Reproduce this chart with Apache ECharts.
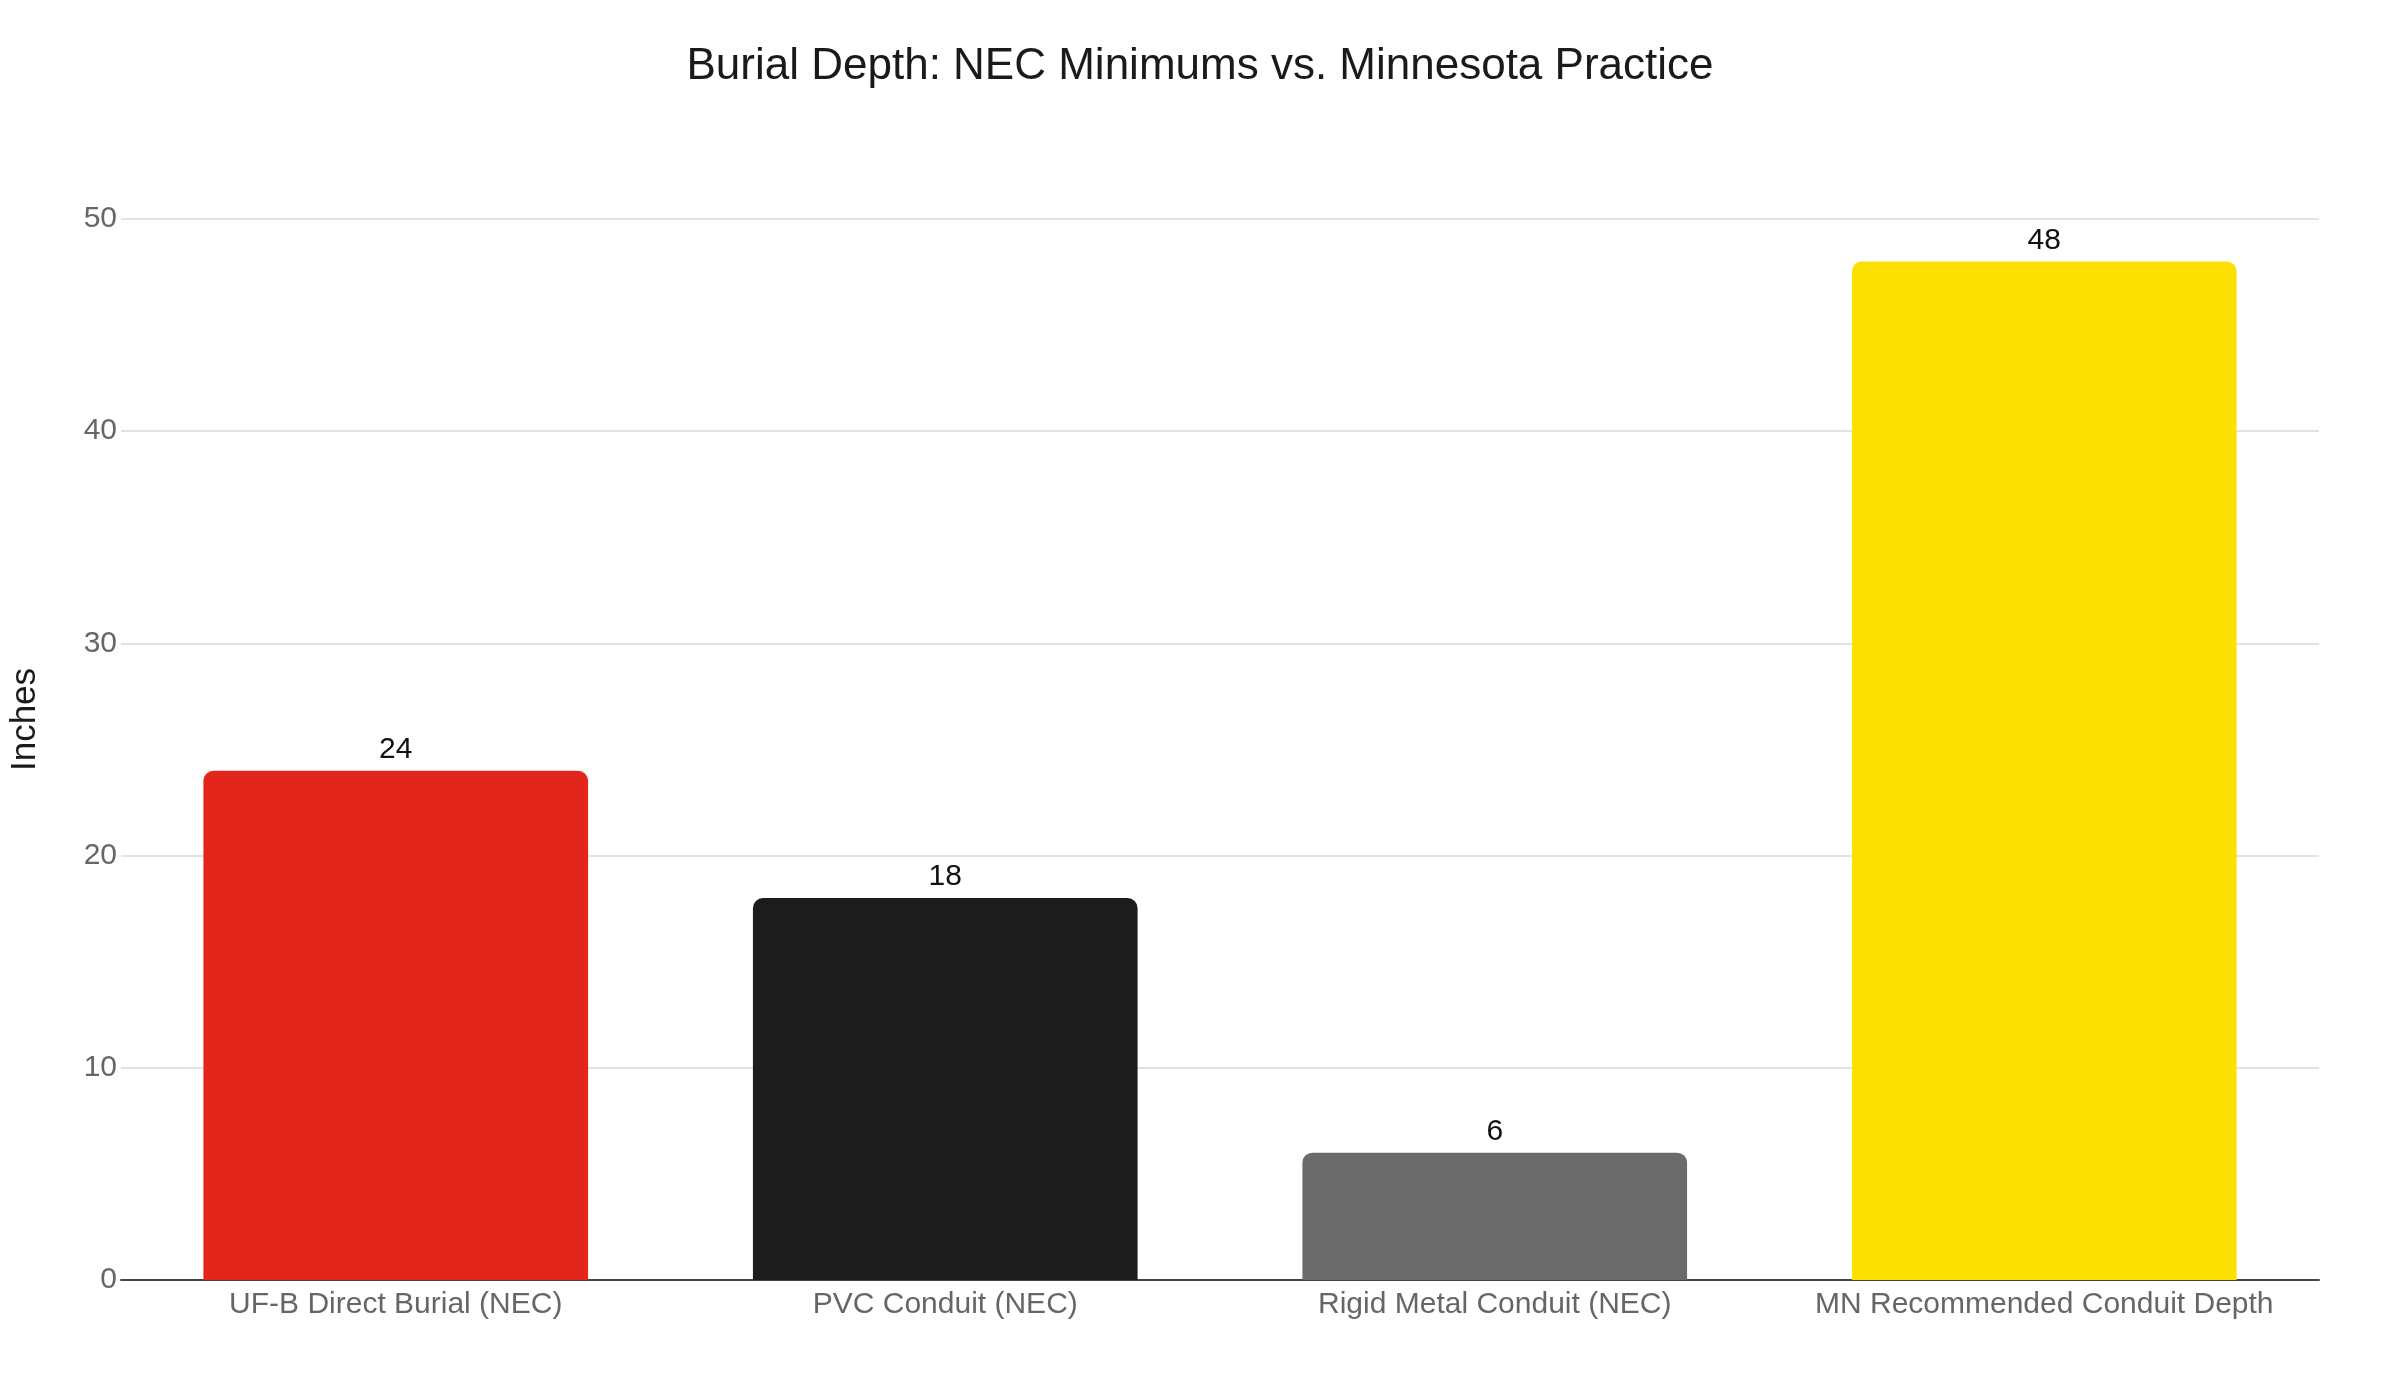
<!DOCTYPE html>
<html>
<head>
<meta charset="utf-8">
<script src="https://cdn.jsdelivr.net/npm/echarts@6/dist/echarts.min.js"></script>
<style>
  html, body { margin: 0; padding: 0; background: #fff; }
  #chart { width: 2400px; height: 1400px; }
</style>
</head>
<body>
<div id="chart"></div>
<script>
// 数据
var categories = ['UF-B Direct Burial (NEC)', 'PVC Conduit (NEC)', 'Rigid Metal Conduit (NEC)', 'MN Recommended Conduit Depth'];
var depths = [24, 18, 6, 48];
var barColors = ['#e2261c', '#1c1c1c', '#6b6b6b', '#fce100'];

var myChart = echarts.init(document.getElementById('chart'));
var fontFamily = '"Liberation Sans", Arial, Helvetica, sans-serif';

var option = {
    backgroundColor: '#fff',
    textStyle: { fontFamily: fontFamily },
    title: {
        text: 'Burial Depth: NEC Minimums vs. Minnesota Practice',
        left: 'center',
        top: 40,
        textStyle: {
            fontSize: 44,
            fontWeight: 'normal',
            color: '#1a1a1a',
            fontFamily: fontFamily
        }
    },
    grid: {
        left: 114,
        right: 81,
        top: 219,
        bottom: 120
    },
    xAxis: {
        type: 'category',
        data: categories,
        axisLine: { lineStyle: { color: '#444', width: 2 } },
        axisTick: { show: false },
        axisLabel: {
            fontSize: 30,
            color: '#666',
            margin: 10,
            interval: 0
        }
    },
    yAxis: {
        type: 'value',
        min: 0,
        max: 50,
        interval: 10,
        name: 'Inches',
        nameLocation: 'middle',
        nameGap: 78,
        // 轴标题略微上移
        nameTextStyle: { fontSize: 35, color: '#1a1a1a', padding: [0, 0, 0, 60] },
        axisLine: { show: false },
        axisTick: { show: false },
        axisLabel: { fontSize: 30, color: '#666', margin: 4 },
        splitLine: { lineStyle: { color: '#e3e3e3', width: 2 } }
    },
    series: [{
        type: 'bar',
        barCategoryGap: '30%',
        data: depths.map(function (v, i) {
            return { value: v, itemStyle: { color: barColors[i] } };
        }),
        itemStyle: { borderRadius: [10, 10, 0, 0] },
        label: {
            show: true,
            position: 'top',
            distance: 6,
            fontSize: 30,
            color: '#111'
        }
    }]
};

myChart.setOption(option);
window.addEventListener('resize', function () {
    myChart.resize();
});
</script>
</body>
</html>
